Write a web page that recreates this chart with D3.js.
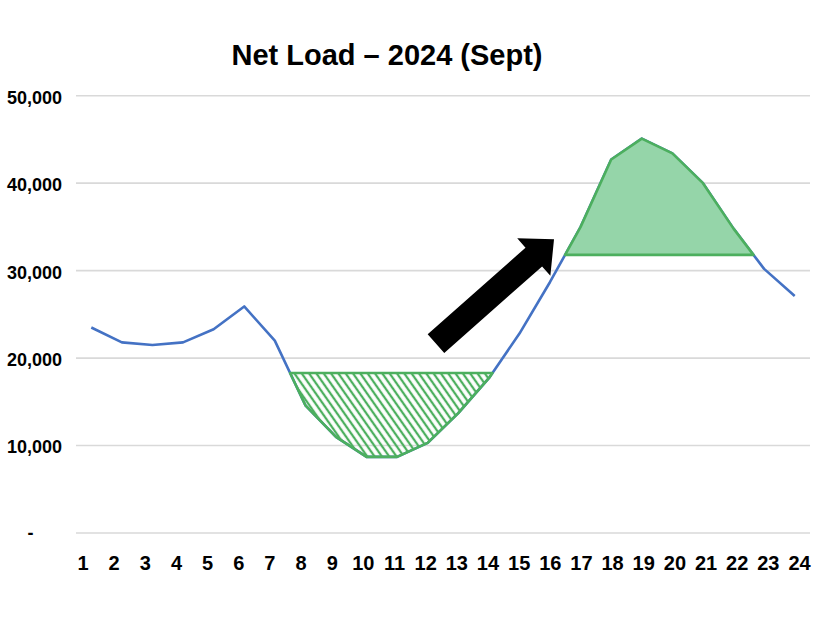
<!DOCTYPE html>
<html>
<head>
<meta charset="utf-8">
<script src="https://cdn.jsdelivr.net/npm/d3@7"></script>
<style>
  html, body { margin: 0; padding: 0; background: #ffffff; }
  svg { display: block; }
</style>
</head>
<body>
<svg id="chart" width="826" height="620"></svg>
<script>
// ---- data ----
const title = "Net Load – 2024 (Sept)";
const hours = [1,2,3,4,5,6,7,8,9,10,11,12,13,14,15,16,17,18,19,20,21,22,23,24];
const netLoad = [23500,21800,21500,21800,23300,25900,22000,14600,11000,8700,8700,10300,
                 13700,17700,22800,28700,35000,42700,45100,43400,40000,34800,30200,27100];
const yTicks = [0,10000,20000,30000,40000,50000];
const yTickLabels = ["-","10,000","20,000","30,000","40,000","50,000"];
// threshold levels of the shaded areas
const troughLevel = 18300;   // hatched area (midday dip)
const peakLevel = 31800;     // solid area (evening ramp / peak)
// arrow annotation, in (hour, MW) units
const arrowFrom = [12.27, 21650];
const arrowTo = [16.13, 33600];

// ---- layout ----
const svg = d3.select("#chart");
const plotLeft = 76, plotRight = 810, plotTop = 95.7, plotBottom = 533;
const x = d3.scaleLinear().domain([0.5, 24.5]).range([plotLeft, plotRight]);
const y = d3.scaleLinear().domain([0, 50000]).range([plotBottom, plotTop]);
const xLabel = d3.scalePoint().domain(hours).range([82.5, 799]);

const font = "'Liberation Sans', Arial, Helvetica, sans-serif";
const blue = "#4472C4", green = "#4CAF5E", greenFill = "#95D5A9", grid = "#D9D9D9";

svg.append("rect").attr("width", 826).attr("height", 620).attr("fill", "#ffffff");

// hatch pattern
const defs = svg.append("defs");
const pat = defs.append("pattern").attr("id", "hatch")
  .attr("patternUnits", "userSpaceOnUse").attr("width", 6).attr("height", 6)
  .attr("patternTransform", "rotate(-35)");
pat.append("line").attr("x1", 3).attr("y1", -1).attr("x2", 3).attr("y2", 7)
  .attr("stroke", green).attr("stroke-width", 2.3);

// title
svg.append("text").attr("x", 387).attr("y", 65).attr("text-anchor", "middle")
  .attr("font-family", font).attr("font-weight", "bold").attr("font-size", 29)
  .attr("fill", "#000").text(title);

// gridlines
svg.append("g").selectAll("line").data(yTicks).join("line")
  .attr("x1", plotLeft).attr("x2", plotRight)
  .attr("y1", d => y(d)).attr("y2", d => y(d))
  .attr("stroke", grid).attr("stroke-width", 1.6);

// y axis
const yAxis = d3.axisLeft(y).tickValues(yTicks).tickSize(0).tickPadding(14)
  .tickFormat((d, i) => yTickLabels[i]);
const gy = svg.append("g").attr("transform", `translate(${plotLeft},0)`).call(yAxis);
gy.select(".domain").remove();
gy.selectAll("text").attr("font-family", font).attr("font-weight", "bold")
  .attr("font-size", 18).attr("fill", "#000").attr("dy", "0.41em");
gy.selectAll(".tick").filter(d => d === 0).select("text")
  .attr("text-anchor", "middle").attr("x", 30.5 - plotLeft).attr("dy", "0.32em");

// x axis labels
const xAxis = d3.axisBottom(xLabel).tickSize(0).tickPadding(22.3);
const gx = svg.append("g").attr("transform", `translate(0,${plotBottom})`).call(xAxis);
gx.select(".domain").remove();
gx.selectAll("text").attr("font-family", font).attr("font-weight", "bold")
  .attr("font-size", 20).attr("fill", "#000");

// net load line
const pts = hours.map((h, i) => [h, netLoad[i]]);
const line = d3.line().x(d => x(d[0])).y(d => y(d[1]));
svg.append("path").attr("d", line(pts)).attr("fill", "none")
  .attr("stroke", blue).attr("stroke-width", 2.6).attr("stroke-linejoin", "round");

// region builder: part of the curve below (or above) a level, closed by the level line
function region(level, below) {
  const out = [];
  for (let i = 0; i < pts.length - 1; i++) {
    const a = pts[i], b = pts[i + 1];
    const inA = below ? a[1] <= level : a[1] >= level;
    const inB = below ? b[1] <= level : b[1] >= level;
    if (inA) out.push(a);
    if (inA !== inB) {
      const t = (level - a[1]) / (b[1] - a[1]);
      out.push([a[0] + t * (b[0] - a[0]), level]);
    }
  }
  const last = pts[pts.length - 1];
  if (below ? last[1] <= level : last[1] >= level) out.push(last);
  return out;
}
const closed = d3.line().x(d => x(d[0])).y(d => y(d[1]));

// hatched trough
const trough = region(troughLevel, true);
svg.append("path").attr("d", closed(trough) + "Z")
  .attr("fill", "url(#hatch)").attr("stroke", green).attr("stroke-width", 2.6)
  .attr("stroke-linejoin", "round");

// solid peak
const peak = region(peakLevel, false);
svg.append("path").attr("d", closed(peak) + "Z")
  .attr("fill", greenFill).attr("stroke", green).attr("stroke-width", 2.6)
  .attr("stroke-linejoin", "round");

// arrow annotation
(function () {
  const x0 = x(arrowFrom[0]), y0 = y(arrowFrom[1]);
  const x1 = x(arrowTo[0]), y1 = y(arrowTo[1]);
  const dx = x1 - x0, dy = y1 - y0, len = Math.hypot(dx, dy);
  const ux = dx / len, uy = dy / len, px = -uy, py = ux;
  const shaftW = 25, headW = 50, headL = 27;
  const bx = x1 - ux * headL, by = y1 - uy * headL;
  const P = [
    [x0 + px * shaftW / 2, y0 + py * shaftW / 2],
    [bx + px * shaftW / 2, by + py * shaftW / 2],
    [bx + px * headW / 2, by + py * headW / 2],
    [x1, y1],
    [bx - px * headW / 2, by - py * headW / 2],
    [bx - px * shaftW / 2, by - py * shaftW / 2],
    [x0 - px * shaftW / 2, y0 - py * shaftW / 2]
  ];
  svg.append("path").attr("d", "M" + P.map(p => p.join(",")).join("L") + "Z")
    .attr("fill", "#000");
})();
</script>
</body>
</html>
